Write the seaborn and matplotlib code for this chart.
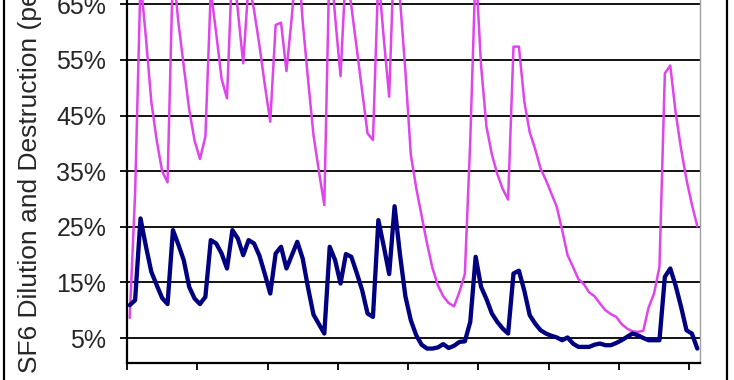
import numpy as np
import pandas as pd
import matplotlib
matplotlib.use("Agg")
import matplotlib.pyplot as plt
import seaborn as sns
from matplotlib.lines import Line2D
from matplotlib.ticker import FixedLocator, FuncFormatter

# ---- data (percent) ----
dilution = [8.6, 31, 69.5, 59, 47.5, 40.5, 35, 33, 72, 61.8,
            53.9, 46.1, 40.5, 37.2, 41.2, 67.5, 59.8, 51.6, 48.1, 73,
            63.9, 54.4, 69, 64, 57.6, 50.5, 43.9, 61.3, 61.7, 53.0,
            62.9, 74.9, 62, 51.4, 41.5, 35, 28.9, 75, 62.8, 52.1,
            71.5, 64.7, 57.1, 49.4, 41.8, 40.6, 70.5, 58.9, 48.4, 77,
            66, 53, 38, 32, 27, 22, 17.6, 14.5, 12.5, 11.3,
            10.7, 13.3, 16.5, 40.5, 72, 54, 43, 38, 34.5, 31.8,
            29.9, 57.4, 57.4, 47.5, 42, 39, 35.5, 33.4, 31, 28.6,
            24.4, 19.9, 17.8, 15.6, 14.7, 13.2, 12.5, 11.2, 10.0, 9.3,
            8.8, 7.5, 6.7, 6.2, 6.1, 6.3, 10.5, 13.0, 17.8, 52.6,
            54.0, 45.5, 39, 33.5, 29, 25.1]

destruction = [10.9, 11.8, 26.5, 21.5, 16.9, 14.5, 12.2, 11.1, 24.4, 21.8,
               19.0, 14.2, 12.1, 11.1, 12.4, 22.6, 22.0, 20.2, 17.5, 24.4,
               22.9, 19.9, 22.6, 22.0, 19.8, 16.5, 13.0, 20.2, 21.4, 17.5,
               19.9, 22.3, 19.3, 14.0, 9.2, 7.5, 5.8, 21.4, 19.0, 14.8,
               20.1, 19.6, 16.7, 13.6, 9.4, 8.8, 26.2, 21.5, 16.5, 28.7,
               20.0, 12.5, 8.2, 5.5, 3.8, 3.1, 3.1, 3.3, 3.9, 3.2,
               3.6, 4.3, 4.4, 7.9, 19.6, 14.2, 12.0, 9.4, 7.9, 6.7,
               5.8, 16.6, 17.1, 13.5, 9.1, 7.6, 6.4, 5.8, 5.4, 5.1,
               4.6, 5.1, 4.0, 3.4, 3.4, 3.4, 3.8, 4.0, 3.7, 3.7,
               4.1, 4.6, 5.2, 5.8, 5.5, 5.0, 4.6, 4.6, 4.6, 16.0,
               17.5, 14.4, 10.6, 6.4, 5.8, 3.1]

ytick_values = [5, 15, 25, 35, 45, 55, 65]
ylabel_text = "SF6 Dilution and Destruction (percent)"

n = len(dilution)
df = pd.DataFrame({"idx": np.arange(n), "dilution": dilution, "destruction": destruction})

sns.set_style("white")
plt.rcParams["font.family"] = ["Liberation Sans", "DejaVu Sans"]

W, H = 734, 380
fig = plt.figure(figsize=(W / 100, H / 100), dpi=100)

# axes placed so the chart appears cropped at the top
y0_px = 363.3               # pixel row of ymin
ymin, ytop = 0.45, 85
px_per = (337.7 - 4.3) / 60.0
top_px = 4.3 - (ytop - 65) * px_per
left_px, right_px = 127, 700
ax = fig.add_axes([left_px / W, (H - y0_px) / H, (right_px - left_px) / W, (y0_px - top_px) / H])

for y in ytick_values + [75, 85]:
    ax.axhline(y, color="black", lw=1.3, zorder=1)

sns.lineplot(data=df, x="idx", y="dilution", ax=ax, color="#DE45EA", lw=1.8,
             solid_joinstyle="round", zorder=3)
sns.lineplot(data=df, x="idx", y="destruction", ax=ax, color="#000080", lw=3.1,
             solid_joinstyle="round", solid_capstyle="round", zorder=4)

ax.set_xlim(-0.5, n - 0.5)
ax.set_ylim(ymin, ytop)
ax.set_xlabel("")
ax.set_ylabel("")

ax.xaxis.set_major_locator(FixedLocator([-0.5 + 13 * j for j in range(9)]))
ax.xaxis.set_major_formatter(FuncFormatter(lambda v, p: ""))
ax.yaxis.set_major_locator(FixedLocator(ytick_values))
ax.yaxis.set_major_formatter(FuncFormatter(lambda v, p: f"{int(round(v))}%"))

ax.tick_params(axis="x", direction="out", length=5, width=1.3, color="black", bottom=True)
ax.tick_params(axis="y", direction="out", length=5, width=1.3, color="black", left=True,
               pad=10, labelsize=18)

for s in ["left", "bottom"]:
    ax.spines[s].set_color("black")
    ax.spines[s].set_linewidth(1.6)
ax.spines["right"].set_color("#A0A0A0")
ax.spines["right"].set_linewidth(1.0)
ax.spines["top"].set_visible(False)
ax.grid(False)

# chart-area border (left and right edges)
for xp in (4, 727):
    fig.add_artist(Line2D([xp / W, xp / W], [0, 1], transform=fig.transFigure,
                          color="black", lw=1.6))

fig.text(30 / W, 7 / H, ylabel_text, rotation=90, ha="center", va="bottom", fontsize=19)

fig.savefig("out.png", dpi=100)
